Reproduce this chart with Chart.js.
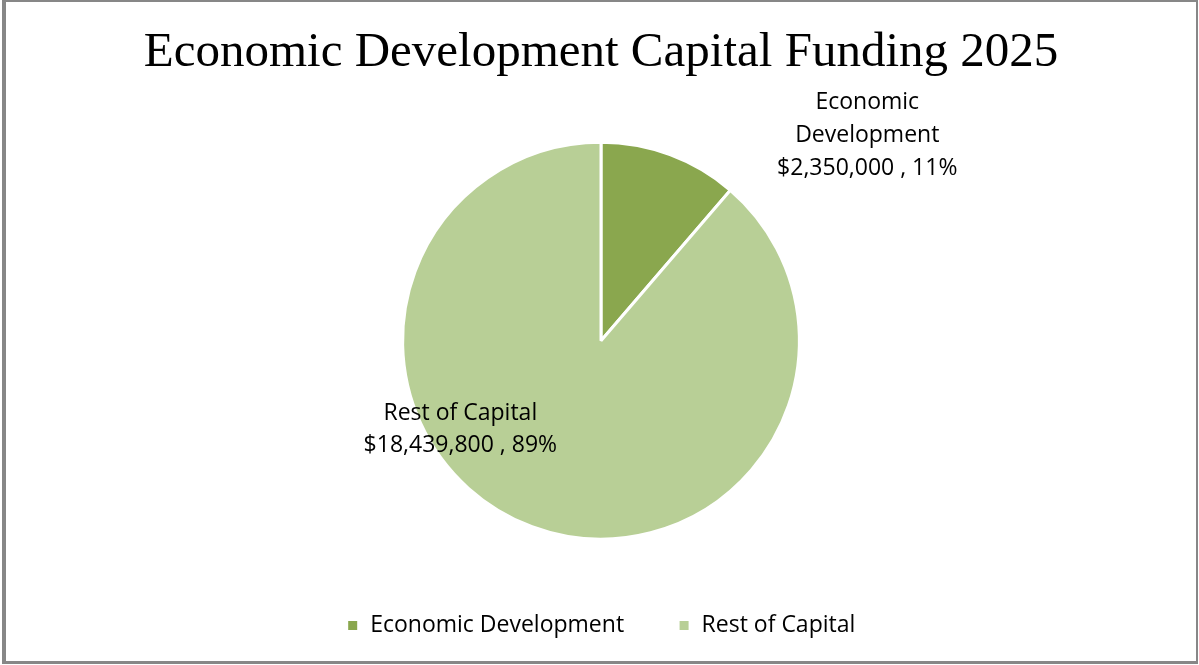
<!DOCTYPE html>
<html>
<head>
<meta charset="utf-8">
<title>Economic Development Capital Funding 2025</title>
<script src="https://cdn.jsdelivr.net/npm/chart.js@4/dist/chart.umd.min.js"></script>
<style>
    html, body { margin: 0; padding: 0; background: #fff; }
    .frame {
        position: absolute;
        left: 2px;
        top: 0;
        width: 1196px;
        height: 664px;
        box-sizing: border-box;
        border: 2px solid #878787;
        border-left-width: 4px;
        border-bottom-width: 3px;
        background: #fff;
    }
    .frame canvas { display: block; }
</style>
</head>
<body>
<div class="frame">
    <canvas id="fundingChart" width="1190" height="659"></canvas>
</div>
<script>
    const categories = ['Economic Development', 'Rest of Capital'];
    const amounts = [2350000, 18439800];
    const sliceColors = ['#8AA74E', '#B8CF96'];

    // label anchor for each slice, in units of the pie radius from its centre
    const labelOffsets = [
        { dx: 1.342, dy: -1.036 },
        { dx: -0.709, dy: 0.446 }
    ];

    const total = amounts.reduce((a, b) => a + b, 0);

    function money(v) {
        return '$' + v.toLocaleString('en-US');
    }

    function labelLines(i) {
        const pct = Math.round(amounts[i] / total * 100) + '%';
        const tail = money(amounts[i]) + ' , ' + pct;
        if (i === 0) return ['Economic', 'Development', tail];
        return [categories[i], tail];
    }

    const sliceLabels = {
        id: 'sliceLabels',
        afterDatasetsDraw(chart) {
            const ctx = chart.ctx;
            const meta = chart.getDatasetMeta(0);
            ctx.save();
            ctx.font = '23px "Open Sans", sans-serif';
            ctx.fillStyle = '#000';
            ctx.textAlign = 'center';
            ctx.textBaseline = 'middle';
            meta.data.forEach((arc, i) => {
                const r = arc.outerRadius;
                const cx = arc.x + labelOffsets[i].dx * r;
                const cy = arc.y + labelOffsets[i].dy * r;
                const lines = labelLines(i);
                const lh = i === 0 ? 33 : 32;
                const top = cy - (lines.length - 1) * lh / 2;
                lines.forEach((t, k) => ctx.fillText(t, cx, top + k * lh));
            });
            ctx.restore();
        }
    };

    const ctx = document.getElementById('fundingChart').getContext('2d');

    new Chart(ctx, {
        type: 'pie',
        data: {
            labels: categories,
            datasets: [{
                data: amounts,
                backgroundColor: sliceColors,
                borderColor: '#ffffff',
                borderWidth: 3
            }]
        },
        options: {
            responsive: false,
            animation: false,
            layout: {
                padding: { bottom: 14 }
            },
            plugins: {
                title: {
                    display: true,
                    text: 'Economic Development Capital Funding 2025',
                    color: '#000',
                    font: { family: '"Liberation Serif", serif', size: 49, weight: 'normal' },
                    padding: { top: 22, bottom: 58 }
                },
                legend: {
                    position: 'bottom',
                    // empty title only spaces the legend row down from the pie
                    title: { display: true, text: '', padding: 2.5 },
                    labels: {
                        color: '#000',
                        font: { family: '"Open Sans", sans-serif', size: 23 },
                        boxWidth: 12,
                        boxHeight: 12,
                        padding: 54
                    }
                },
                tooltip: { enabled: false }
            }
        },
        plugins: [sliceLabels]
    });
</script>
</body>
</html>
